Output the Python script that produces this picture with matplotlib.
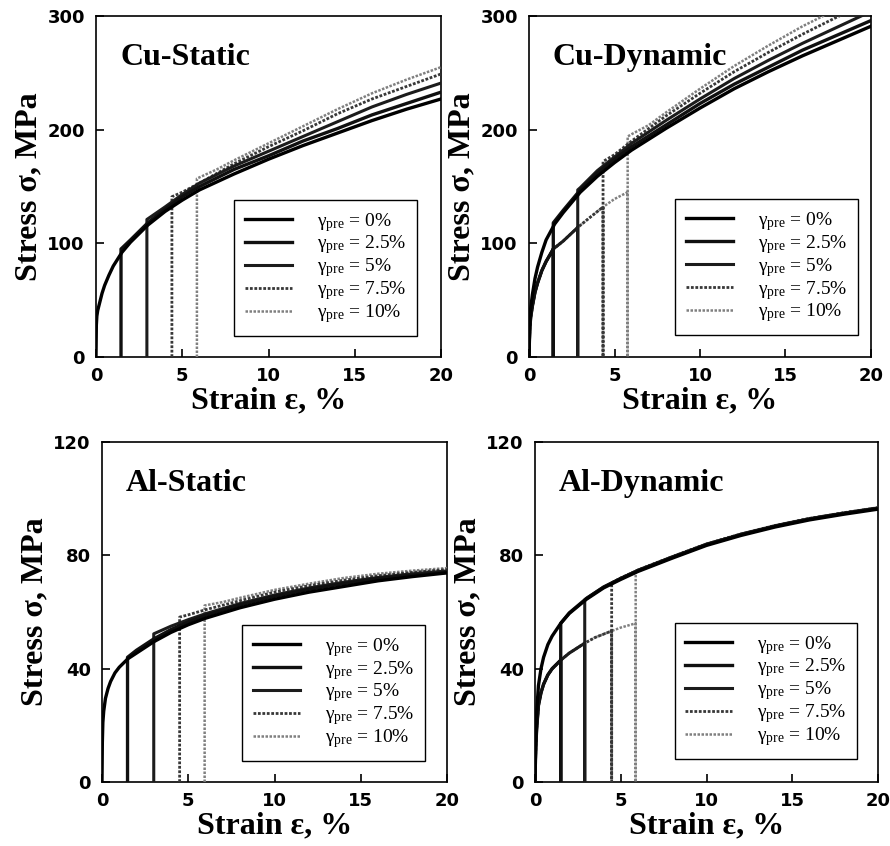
import matplotlib
matplotlib.use("Agg")
import matplotlib.pyplot as plt

plt.rcParams['mathtext.fontset'] = 'custom'
plt.rcParams['mathtext.rm'] = 'Liberation Serif'
plt.rcParams['mathtext.it'] = 'Liberation Serif:italic'

# ---- data ----
PRE_LABELS = ['0%', '2.5%', '5%', '7.5%', '10%']
STRAIN_GRID = [0, 0.02, 0.05, 0.1, 0.2, 0.35, 0.5, 0.75, 1, 1.5, 2, 3, 4, 5, 6, 8, 10, 12, 14, 16, 18, 20]

# Cu static
cu_s_base = [0, 28, 36, 41, 47, 56, 63, 72, 80, 92, 101, 116, 128, 138, 147, 161, 174, 186, 197, 208, 218, 227]
cu_s_starts = [1.45, 2.95, 4.4, 5.85]
cu_s_pre_x = [[1.45, 2, 3, 4, 5, 6, 8, 10, 12, 14, 16, 18, 20],
              [2.95, 4, 5, 6, 8, 10, 12, 14, 16, 18, 20],
              [4.4, 5, 6, 8, 10, 12, 14, 16, 18, 20],
              [5.85, 7, 8, 10, 12, 14, 16, 18, 20]]
cu_s_pre_y = [[95, 103, 118, 130, 141, 150, 165, 177, 190, 201, 213, 223, 233],
              [121, 132, 143, 153, 168, 181, 194, 207, 220, 231, 241],
              [141, 145, 153, 170, 185, 199, 214, 227, 238, 249],
              [157, 165, 173, 188, 203, 218, 232, 244, 255]]

# Cu dynamic
cu_d_base = [0, 15, 32, 43, 55, 69, 79, 92, 103, 117, 127, 145, 159, 171, 182, 201, 219, 236, 251, 265, 278, 291]
cu_d_starts = [1.42, 2.85, 4.33, 5.77]
cu_d_load_x = [0, 0.02, 0.05, 0.1, 0.2, 0.35, 0.5, 0.75, 1, 1.42, 2, 2.85, 3.5, 4.33, 5, 5.77]
cu_d_load_y = [0, 12, 26, 35, 45, 57, 65, 76, 84, 95, 102, 114, 122, 132, 139, 145]
cu_d_pre_x = [[1.42, 2, 3, 4, 5, 6, 8, 10, 12, 14, 16, 18, 20],
              [2.85, 3, 4, 5, 6, 8, 10, 12, 14, 16, 18, 20],
              [4.33, 5, 6, 8, 10, 12, 14, 16, 18, 20],
              [5.77, 6, 7, 8, 10, 12, 14, 16, 18, 20]]
cu_d_pre_y = [[118, 129, 147, 162, 174, 185, 204, 223, 240, 255, 270, 283, 296],
              [147, 149, 164, 176, 188, 208, 227, 245, 261, 276, 290, 304],
              [172, 178, 190, 212, 232, 251, 268, 284, 299, 313],
              [194, 196, 204, 215, 236, 256, 274, 291, 306, 320]]

# Al static
al_s_base = [0, 14, 21, 25, 29.5, 33, 35.5, 38.5, 40.5, 43.5, 45.5, 49.5, 52.8, 55.5, 57.8, 61.5, 64.5, 67, 69, 71, 72.5, 73.8]
al_s_starts = [1.48, 3.0, 4.5, 5.95]
al_s_pre_x = [[1.48, 2, 3, 4, 5, 6, 8, 10, 12, 14, 16, 18, 20],
              [3.0, 4, 5, 6, 8, 10, 12, 14, 16, 18, 20],
              [4.5, 5, 6, 8, 10, 12, 14, 16, 18, 20],
              [5.95, 7, 8, 10, 12, 14, 16, 18, 20]]
al_s_pre_y = [[44, 46.5, 50.5, 53.8, 56.5, 58.8, 62.5, 65.5, 68, 70, 71.8, 73, 74],
              [52.3, 55, 57.3, 59.4, 63, 66, 68.5, 70.5, 72.2, 73.5, 74.5],
              [58.2, 59, 60.8, 64, 67, 69.3, 71.2, 72.8, 74, 75],
              [62.3, 63.5, 65, 67.8, 70, 72, 73.5, 74.6, 75.5]]

# Al dynamic
al_d_base = [0, 8, 16, 25, 34, 40, 44, 48.5, 51.5, 56, 59.5, 64.5, 68.5, 71.5, 74.3, 79, 83.5, 87, 90, 92.5, 94.5, 96.3]
al_d_starts = [1.5, 2.9, 4.47, 5.87]
al_d_load_x = [0, 0.02, 0.05, 0.1, 0.2, 0.35, 0.5, 0.75, 1, 1.5, 2, 2.9, 3.5, 4.47, 5, 5.87]
al_d_load_y = [0, 6, 13, 19, 27, 31.5, 34.5, 37.8, 40, 43, 45.5, 49, 51, 53.3, 54.5, 56]
al_d_pre_x = [[1.5, 2, 3, 4, 5, 6, 8, 10, 12, 14, 16, 18, 20],
              [2.9, 3, 4, 5, 6, 8, 10, 12, 14, 16, 18, 20],
              [4.47, 5, 6, 8, 10, 12, 14, 16, 18, 20],
              [5.87, 6, 8, 10, 12, 14, 16, 18, 20]]
al_d_pre_y = [[56, 59.7, 64.8, 68.8, 71.8, 74.6, 79.3, 83.8, 87.3, 90.3, 92.8, 94.8, 96.6],
              [64.3, 64.8, 68.8, 71.9, 74.7, 79.4, 83.9, 87.4, 90.4, 92.9, 94.9, 96.7],
              [70.3, 72, 74.8, 79.5, 84, 87.5, 90.5, 93, 95, 96.8],
              [74.3, 74.9, 79.6, 84.1, 87.6, 90.6, 93.1, 95.1, 96.9]]

LINE_STYLES = [
    dict(color='black', lw=2.4, ls='-'),
    dict(color='#101010', lw=2.4, ls='-'),
    dict(color='#1c1c1c', lw=2.2, ls='-'),
    dict(color='#383838', lw=2.0, ls=(0, (1, 0.6))),
    dict(color='#808080', lw=1.8, ls=(0, (1, 0.6))),
]

SERIF = 'Liberation Serif'
TICK_FONT = dict(family='DejaVu Sans', weight='bold', size=13)


def draw_panel(ax, title, base_y, starts, pre_x, pre_y, ylim, yticks,
               legend_anchor, load_x=None, load_y=None):
    handles = [None] * 5
    # draw highest pre-strain first so the lower ones end on top
    for k in range(3, -1, -1):
        e0 = starts[k]
        xs, ys = [], []
        if load_x is not None:
            n = load_x.index(e0)
            xs += load_x[:n + 1]
            ys += load_y[:n + 1]
        xs += [e0] + pre_x[k]
        ys += [0] + pre_y[k]
        (h,) = ax.plot(xs, ys, **LINE_STYLES[k + 1], zorder=2 + (4 - k))
        handles[k + 1] = h
    (h0,) = ax.plot(STRAIN_GRID, base_y, **LINE_STYLES[0], zorder=8)
    handles[0] = h0

    ax.set_xlim(0, 20)
    ax.set_ylim(*ylim)
    ax.set_xticks([0, 5, 10, 15, 20])
    ax.set_yticks(yticks)
    ax.tick_params(direction='in', length=6, width=1.2, top=False, right=False)
    ax.tick_params(axis='x', pad=7)
    ax.tick_params(axis='y', pad=8)
    for lab in ax.get_xticklabels() + ax.get_yticklabels():
        lab.set_fontproperties(matplotlib.font_manager.FontProperties(**TICK_FONT))
    for sp in ax.spines.values():
        sp.set_linewidth(1.2)

    ax.set_xlabel('Strain ε, %', family=SERIF, weight='bold', size=23, labelpad=1)
    ax.set_ylabel('Stress σ, MPa', family=SERIF, weight='bold', size=23, labelpad=3)
    ax.text(0.07, 0.855, title, transform=ax.transAxes, family=SERIF,
            weight='bold', size=23, ha='left', va='baseline')

    labels = ['γ$_{\\mathrm{pre}}$ = $\\mathit{' + p.replace('%', '\\%') + '}$'
              for p in PRE_LABELS]
    leg = ax.legend(handles, labels, loc='lower right', bbox_to_anchor=legend_anchor,
                    borderaxespad=0, prop=dict(family=SERIF, size=14),
                    fancybox=False, framealpha=1, edgecolor='black',
                    handlelength=2.4, handletextpad=1.3, labelspacing=0.0,
                    borderpad=0.55)
    leg.get_frame().set_linewidth(1.0)


fig = plt.figure(figsize=(8.9, 8.46), dpi=100)
W, H = 890.0, 846.0


def axes_px(left, right, top, bottom):
    return fig.add_axes([left / W, (H - bottom) / H, (right - left) / W, (bottom - top) / H])


ax1 = axes_px(96, 441, 16, 357)
ax2 = axes_px(529, 871, 16, 357)
ax3 = axes_px(102, 447, 442, 782)
ax4 = axes_px(535, 878, 442, 782)

draw_panel(ax1, 'Cu-Static', cu_s_base, cu_s_starts, cu_s_pre_x, cu_s_pre_y,
           (0, 300), [0, 100, 200, 300], (0.93, 0.062))
draw_panel(ax2, 'Cu-Dynamic', cu_d_base, cu_d_starts, cu_d_pre_x, cu_d_pre_y,
           (0, 300), [0, 100, 200, 300], (0.962, 0.064), cu_d_load_x, cu_d_load_y)
draw_panel(ax3, 'Al-Static', al_s_base, al_s_starts, al_s_pre_x, al_s_pre_y,
           (0, 120), [0, 40, 80, 120], (0.936, 0.062))
draw_panel(ax4, 'Al-Dynamic', al_d_base, al_d_starts, al_d_pre_x, al_d_pre_y,
           (0, 120), [0, 40, 80, 120], (0.94, 0.068), al_d_load_x, al_d_load_y)

fig.savefig('out.png', dpi=100, facecolor='white')
